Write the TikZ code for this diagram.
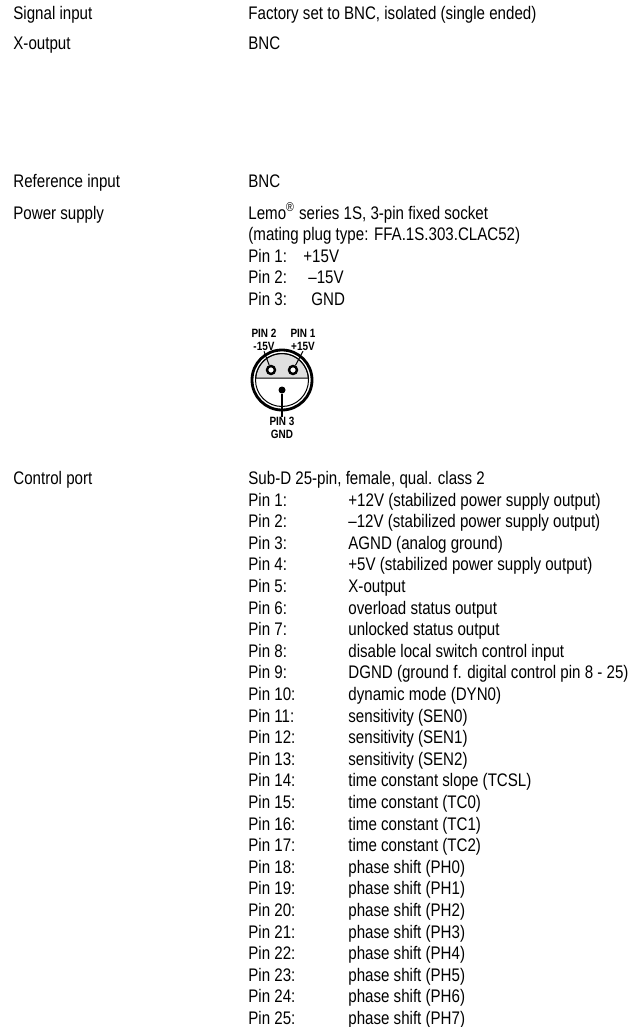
\documentclass[tikz,border=0pt]{standalone}
\usepackage{fontspec}
\setmainfont{Liberation Sans}[FakeStretch=0.83]

\begin{document}
\begin{tikzpicture}[x=0.5pt,y=-0.5pt,
  txt/.style={anchor=west,inner sep=0pt,text height=6.5pt,text depth=0pt,
              font=\fontsize{9.1}{10.9}\selectfont},
  tag/.style={inner sep=0pt,align=center,font=\fontsize{6}{6.6}\selectfont\bfseries},
  hole/.style={circle,draw,line width=1.2pt,fill=white,inner sep=0pt,minimum size=4pt},
  pindot/.style={circle,fill,inner sep=0pt,minimum size=3.5pt}]
  \useasboundingbox (0,0) rectangle (636,1027);

  \node[txt] (sig)   at (13,13)  {Signal input};
  \node[txt] (sigv)  at (248,13) {Factory set to BNC, isolated (single ended)};
  \node[txt] (xout)  at (13,43)  {X-output};
  \node[txt] (xoutv) at (248,43) {BNC};

  \node[txt] (ref)  at (13,181)  {Reference input};
  \node[txt] (refv) at (248,181) {BNC};
  \node[txt] (pwr)  at (13,213)  {Power supply};
  \node[txt] (lemo) at (248,213) {Lemo\textsuperscript{®} series 1S, 3-pin fixed socket};
  \node[txt] (mate) at (248,234.5) {(mating plug type: FFA.1S.303.CLAC52)};
  \node[txt] (lp1) at (248,256) {Pin 1:};  \node[txt] (lv1) at (303,256) {+15V};
  \node[txt] (lp2) at (248,277.5) {Pin 2:}; \node[txt] (lv2) at (308,277.5) {–15V};
  \node[txt] (lp3) at (248,299) {Pin 3:};  \node[txt] (lv3) at (311,299) {GND};

  % lemo socket, front view
  \draw[line width=1.4pt] (282,380) circle[radius=30];
  \filldraw[fill=gray!25,line width=0.5pt] (255.6,378) arc[start angle=184.3,end angle=355.7,radius=26.5] -- cycle;
  \draw[line width=0.5pt] (282,380) circle[radius=26.5];
  \node[hole] (h2) at (271,370) {};
  \node[hole] (h1) at (293,370) {};
  \node[pindot] (gp) at (282,390) {};
  \node[tag] (l2) at (264,340) {PIN 2\\-15V};
  \node[tag] (l1) at (303,340) {PIN 1\\+15V};
  \node[tag] (l3) at (282,428) {PIN 3\\GND};
  \draw[line width=0.5pt] (l2.south) -- (h2);
  \draw[line width=0.5pt] (l1.south) -- (h1);
  \draw[line width=0.8pt] (gp) -- (l3.north);

  \node[txt] (ctl)  at (13,478)  {Control port};
  \node[txt] (subd) at (248,478) {Sub-D 25-pin, female, qual. class 2};
  \node[txt] (p1)  at (248,499.6)  {Pin 1:};  \node[txt] (d1)  at (348,499.6)  {+12V (stabilized power supply output)};
  \node[txt] (p2)  at (248,521.2)  {Pin 2:};  \node[txt] (d2)  at (348,521.2)  {–12V (stabilized power supply output)};
  \node[txt] (p3)  at (248,542.8)  {Pin 3:};  \node[txt] (d3)  at (348,542.8)  {AGND (analog ground)};
  \node[txt] (p4)  at (248,564.4)  {Pin 4:};  \node[txt] (d4)  at (348,564.4)  {+5V (stabilized power supply output)};
  \node[txt] (p5)  at (248,586)    {Pin 5:};  \node[txt] (d5)  at (348,586)    {X-output};
  \node[txt] (p6)  at (248,607.6)  {Pin 6:};  \node[txt] (d6)  at (348,607.6)  {overload status output};
  \node[txt] (p7)  at (248,629.2)  {Pin 7:};  \node[txt] (d7)  at (348,629.2)  {unlocked status output};
  \node[txt] (p8)  at (248,650.8)  {Pin 8:};  \node[txt] (d8)  at (348,650.8)  {disable local switch control input};
  \node[txt] (p9)  at (248,672.4)  {Pin 9:};  \node[txt] (d9)  at (348,672.4)  {DGND (ground f. digital control pin 8 - 25)};
  \node[txt] (p10) at (248,694)    {Pin 10:}; \node[txt] (d10) at (348,694)    {dynamic mode (DYN0)};
  \node[txt] (p11) at (248,715.6)  {Pin 11:}; \node[txt] (d11) at (348,715.6)  {sensitivity (SEN0)};
  \node[txt] (p12) at (248,737.2)  {Pin 12:}; \node[txt] (d12) at (348,737.2)  {sensitivity (SEN1)};
  \node[txt] (p13) at (248,758.8)  {Pin 13:}; \node[txt] (d13) at (348,758.8)  {sensitivity (SEN2)};
  \node[txt] (p14) at (248,780.4)  {Pin 14:}; \node[txt] (d14) at (348,780.4)  {time constant slope (TCSL)};
  \node[txt] (p15) at (248,802)    {Pin 15:}; \node[txt] (d15) at (348,802)    {time constant (TC0)};
  \node[txt] (p16) at (248,823.6)  {Pin 16:}; \node[txt] (d16) at (348,823.6)  {time constant (TC1)};
  \node[txt] (p17) at (248,845.2)  {Pin 17:}; \node[txt] (d17) at (348,845.2)  {time constant (TC2)};
  \node[txt] (p18) at (248,866.8)  {Pin 18:}; \node[txt] (d18) at (348,866.8)  {phase shift (PH0)};
  \node[txt] (p19) at (248,888.4)  {Pin 19:}; \node[txt] (d19) at (348,888.4)  {phase shift (PH1)};
  \node[txt] (p20) at (248,910)    {Pin 20:}; \node[txt] (d20) at (348,910)    {phase shift (PH2)};
  \node[txt] (p21) at (248,931.6)  {Pin 21:}; \node[txt] (d21) at (348,931.6)  {phase shift (PH3)};
  \node[txt] (p22) at (248,953.2)  {Pin 22:}; \node[txt] (d22) at (348,953.2)  {phase shift (PH4)};
  \node[txt] (p23) at (248,974.8)  {Pin 23:}; \node[txt] (d23) at (348,974.8)  {phase shift (PH5)};
  \node[txt] (p24) at (248,996.4)  {Pin 24:}; \node[txt] (d24) at (348,996.4)  {phase shift (PH6)};
  \node[txt] (p25) at (248,1018)   {Pin 25:}; \node[txt] (d25) at (348,1018)   {phase shift (PH7)};
\end{tikzpicture}
\end{document}
